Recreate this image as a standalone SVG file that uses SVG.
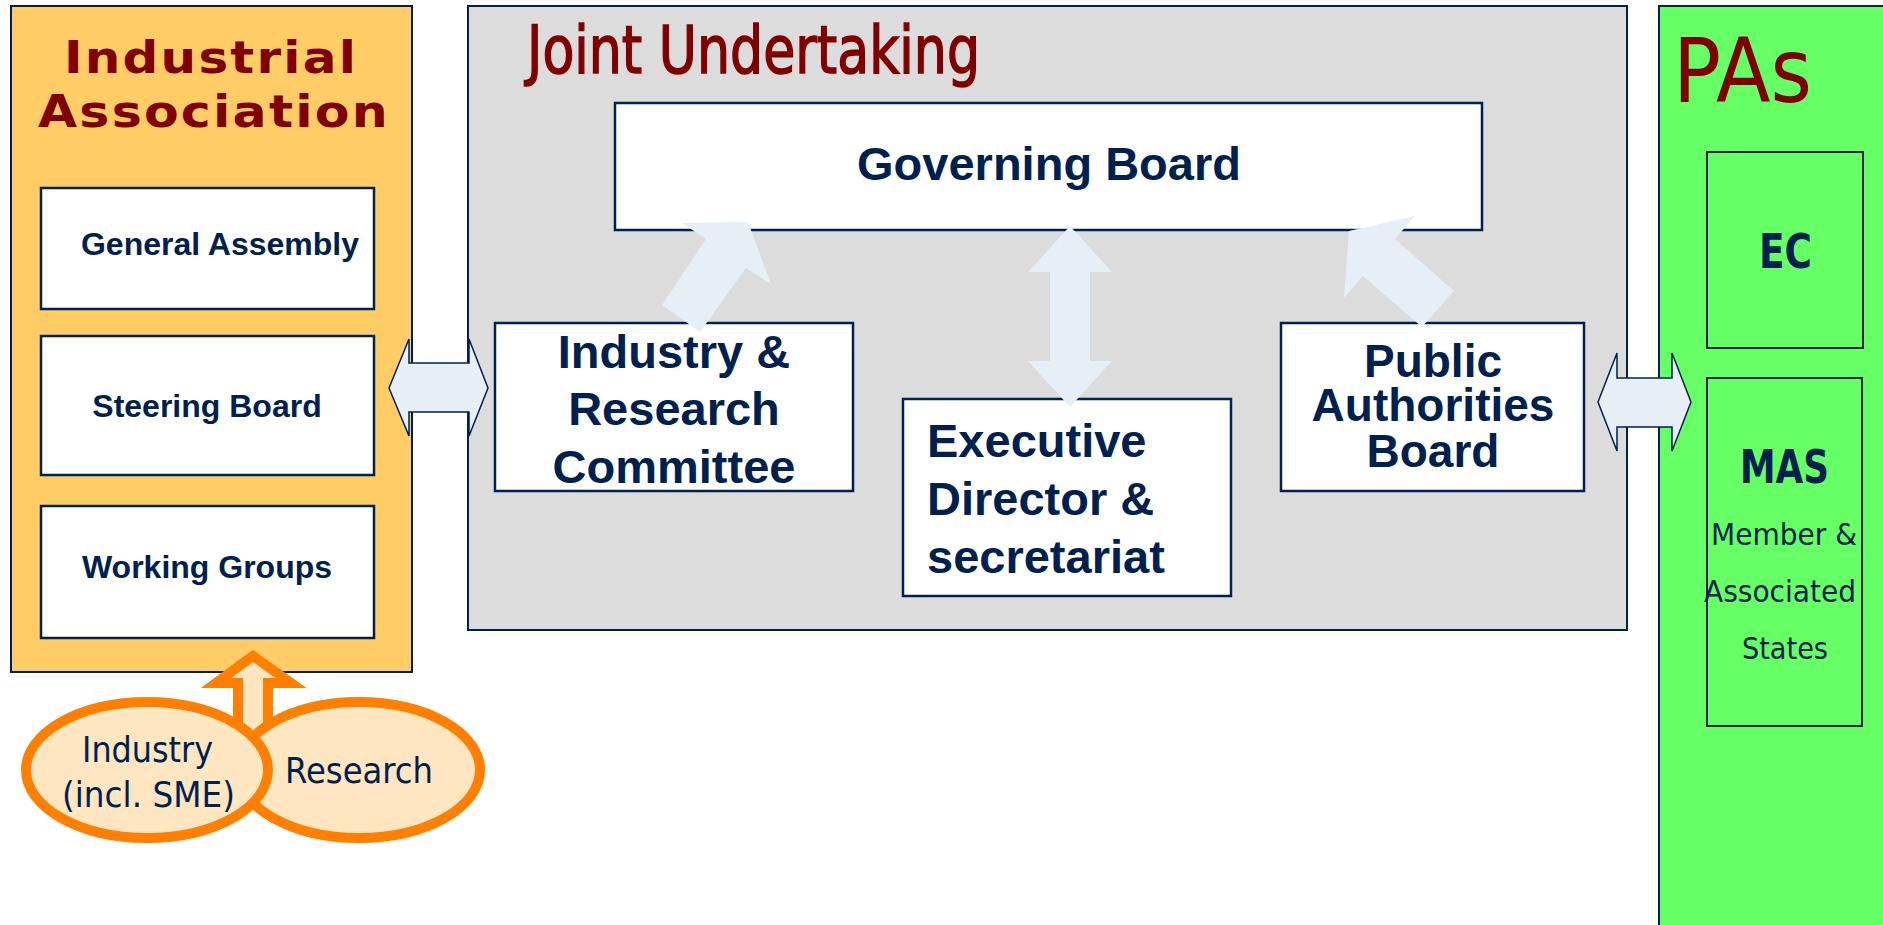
<svg xmlns="http://www.w3.org/2000/svg" width="1883" height="925" viewBox="0 0 1883 925">
<style>
.box{stroke:#00214f;stroke-width:2}
.wb{fill:#fff;stroke:#00214f;stroke-width:2.5}
.ar{font-family:"Liberation Sans",Arial,sans-serif;font-weight:bold;fill:#00214f}
.th{font-family:"DejaVu Sans",Verdana,sans-serif;fill:#00214f}
.title{font-family:"DejaVu Sans",Verdana,sans-serif;fill:#800000}
.la{fill:#e6eef6}
.lab{fill:#e6eef6;stroke:#00214f;stroke-width:1.5}
.or{fill:#fde6c0;stroke:#ff8000;stroke-width:10}
</style>
<rect width="1883" height="925" fill="#fff"/>
<g id="industrial-association">
<rect class="box" x="11" y="6" width="401" height="666" fill="#ffcc66"/>
<text class="title" font-weight="bold" font-size="45" x="64" y="73" textLength="294" lengthAdjust="spacingAndGlyphs" letter-spacing="2">Industrial</text>
<text class="title" font-weight="bold" font-size="45" x="38" y="127" textLength="352" lengthAdjust="spacingAndGlyphs" letter-spacing="2">Association</text>
</g>
<g id="general-assembly">
<rect class="wb" x="41" y="188" width="333" height="121"/>
<text class="ar" font-size="32" x="220" y="255" text-anchor="middle">General Assembly</text>
</g>
<g id="steering-board">
<rect class="wb" x="41" y="336" width="333" height="139"/>
<text class="ar" font-size="32" x="207" y="417" text-anchor="middle">Steering Board</text>
</g>
<g id="working-groups">
<rect class="wb" x="41" y="506" width="333" height="132"/>
<text class="ar" font-size="32" x="207" y="578" text-anchor="middle">Working Groups</text>
</g>
<g id="joint-undertaking">
<rect class="box" x="468" y="6" width="1159" height="624" fill="#dcdcdc"/>
<text class="title" font-size="66" x="527" y="73" textLength="453" lengthAdjust="spacingAndGlyphs" stroke="#800000" stroke-width="1.6">Joint Undertaking</text>
</g>
<g id="pas">
<rect class="box" x="1659" y="6" width="240" height="940" fill="#66ff66"/>
<text class="title" font-size="89" x="1673" y="102" textLength="139" lengthAdjust="spacingAndGlyphs">PAs</text>
</g>
<g id="ec">
<rect fill="none" stroke="#00214f" stroke-width="2" x="1707" y="152" width="156" height="196"/>
<text class="th" font-weight="bold" font-size="48" x="1759" y="268" textLength="53" lengthAdjust="spacingAndGlyphs">EC</text>
</g>
<g id="mas">
<rect fill="none" stroke="#00214f" stroke-width="2" x="1707" y="378" width="155" height="348"/>
<text class="th" font-weight="bold" font-size="46" x="1740" y="483" textLength="89" lengthAdjust="spacingAndGlyphs">MAS</text>
<text class="th" font-size="30" x="1711" y="545" textLength="146" lengthAdjust="spacingAndGlyphs">Member &amp;</text>
<text class="th" font-size="30" x="1704" y="602" textLength="152" lengthAdjust="spacingAndGlyphs">Associated</text>
<text class="th" font-size="30" x="1742" y="659" textLength="86" lengthAdjust="spacingAndGlyphs">States</text>
</g>
<g id="governing-board">
<rect class="wb" x="615" y="103" width="867" height="127"/>
<text class="ar" font-size="47" x="1049" y="180" text-anchor="middle">Governing Board</text>
</g>
<g id="industry-research-committee">
<rect class="wb" x="495" y="323" width="358" height="168"/>
<text class="ar" font-size="47" x="674" y="368" text-anchor="middle">Industry &amp;</text>
<text class="ar" font-size="47" x="674" y="425" text-anchor="middle">Research</text>
<text class="ar" font-size="47" x="674" y="483" text-anchor="middle">Committee</text>
</g>
<g id="executive-director">
<rect class="wb" stroke-width="3.5" x="903" y="399" width="328" height="197"/>
<text class="ar" font-size="47" x="927" y="457">Executive</text>
<text class="ar" font-size="47" x="927" y="515">Director &amp;</text>
<text class="ar" font-size="47" x="927" y="573">secretariat</text>
</g>
<g id="public-authorities-board">
<rect class="wb" x="1281" y="323" width="303" height="168"/>
<text class="ar" font-size="46" x="1433" y="377" text-anchor="middle">Public</text>
<text class="ar" font-size="46" x="1433" y="421" text-anchor="middle">Authorities</text>
<text class="ar" font-size="46" x="1433" y="467" text-anchor="middle">Board</text>
</g>
<g id="connectors">
<polygon class="lab" points="389,388 409,339 409,363 469,363 469,339 488,388 469,436 469,412 409,412 409,436"/>
<polygon class="lab" points="1598,402 1617,353 1617,378 1672,378 1672,353 1691,402 1672,451 1672,427 1617,427 1617,451"/>
<polygon class="la" points="1070,226 1112,272 1090,272 1090,361 1112,361 1070,407 1028,361 1050,361 1050,272 1028,272"/>
<polygon class="la" points="748,222 771,284 746,268 700,332 662,305 706,239 682,223"/>
<polygon class="la" points="1349,231 1415,216 1395,239 1454,291 1422,327 1363,276 1344,298"/>
<polygon class="or" points="253,656 291,683 268,683 268,745 238,745 238,683 216,683"/>
</g>
<g id="research">
<ellipse class="or" cx="359" cy="770" rx="121" ry="68"/>
<text class="th" font-size="36" x="285" y="783" textLength="148" lengthAdjust="spacingAndGlyphs">Research</text>
</g>
<g id="industry">
<ellipse class="or" cx="147" cy="770" rx="121" ry="68"/>
<text class="th" font-size="36" x="82" y="762" textLength="131" lengthAdjust="spacingAndGlyphs">Industry</text>
<text class="th" font-size="36" x="62" y="807" textLength="173" lengthAdjust="spacingAndGlyphs">(incl. SME)</text>
</g>
</svg>
